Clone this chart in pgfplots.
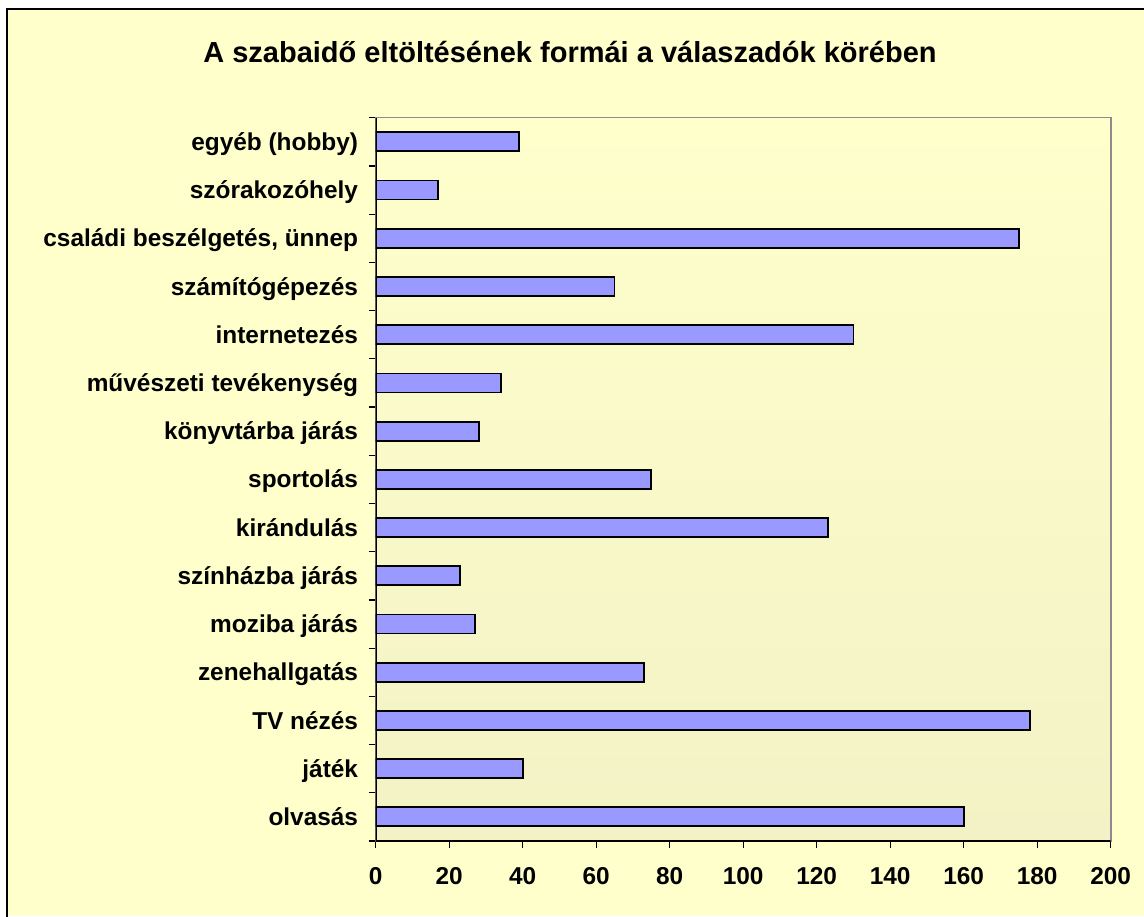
\documentclass[border=0pt]{standalone}
\usepackage{fontspec}
\setmainfont{Liberation Sans}
\usepackage{pgfplots}
\pgfplotsset{compat=1.18}
\definecolor{bgyellow}{HTML}{FFFFCC}
\definecolor{plotbot}{HTML}{F2F2C6}
\definecolor{barblue}{HTML}{9999FF}
\definecolor{framegray}{HTML}{8C8C8C}

\begin{document}
\begin{tikzpicture}[x=1pt,y=1pt]
  \useasboundingbox (0,0) rectangle (572,458);
  \fill[white] (0,0) rectangle (572,458);
  \fill[bgyellow] (3.5,0) rectangle (572,453.5);
  \draw[black,line width=0.9pt] (3.5,-1) -- (3.5,453.5) -- (573,453.5);
  \node[anchor=base,font=\bfseries\fontsize{14.5}{16}\selectfont] at (285,426.6)
    {A szabaidő eltöltésének formái a válaszadók körében};

  \begin{axis}[
      at={(187.85pt,37.5pt)}, anchor=south west,
      scale only axis, width=367.5pt, height=361.65pt,
      xbar, bar width=9.5pt,
      xmin=0, xmax=200, ymin=-0.5, ymax=14.5,
      xtick={0,20,...,200}, minor xtick={0,20,...,200},
      ytick={0,...,14}, minor ytick={-0.5,0.5,...,14.5},
      xtick pos=bottom, ytick pos=left,
      yticklabels={olvasás,játék,TV nézés,zenehallgatás,moziba járás,
        színházba járás,kirándulás,sportolás,könyvtárba járás,
        művészeti tevékenység,internetezés,számítógépezés,
        {családi beszélgetés, ünnep},szórakozóhely,egyéb (hobby)},
      tick align=outside, major tick length=0pt, minor tick length=3.5pt,
      minor tick style={black,line width=0.6pt},
      tick label style={font=\bfseries\fontsize{12.2}{14}\selectfont},
      /pgf/number format/assume math mode=true,
      xticklabel style={yshift=-9.5pt},
      yticklabel style={anchor=base east,xshift=-5.3pt,yshift=-4.3pt},
      axis line style={framegray,line width=0.8pt},
      axis background/.style={shade,top color=bgyellow,bottom color=plotbot},
    ]
    \addplot[fill=barblue,draw=black,line width=0.9pt] coordinates {
      (160,0) (40,1) (178,2) (73,3) (27,4) (23,5) (123,6) (75,7)
      (28,8) (34,9) (130,10) (65,11) (175,12) (17,13) (39,14)};
    \draw[black,line width=0.8pt] (rel axis cs:0,1) -- (rel axis cs:0,0) -- (rel axis cs:1,0);
  \end{axis}
\end{tikzpicture}
\end{document}
